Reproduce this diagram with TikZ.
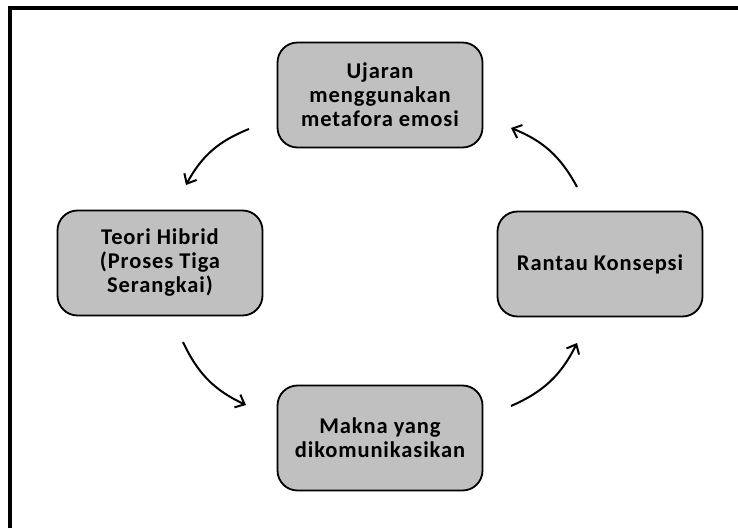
\documentclass[tikz,border=0pt]{standalone}
\usepackage{fontspec}
\setmainfont{Carlito}
\usetikzlibrary{arrows.meta}
\begin{document}
\begin{tikzpicture}[x=1pt,y=1pt,
  box/.style={draw=black, line width=1.8pt, fill=boxgray, rounded corners=20pt,
    minimum width=205pt, minimum height=105pt, align=center,
    font=\fontsize{22.5}{24}\selectfont\bfseries\addfontfeatures{LetterSpace=4}},
  cyc/.style={line width=2pt, -{Straight Barb[length=8pt,width=14pt,line width=2pt]}, bend right=20}]
\definecolor{boxgray}{HTML}{C0C0C0}
\useasboundingbox (0,0) rectangle (738,528);
\fill[white] (0,0) rectangle (738,528);
\draw[line width=4pt] (10,0) -- (10,520) -- (738,520);
\node[box] (top) at (380,433) {Ujaran\\menggunakan\\metafora emosi};
\node[box] (left) at (160,265) {Teori Hibrid\\(Proses Tiga\\Serangkai)};
\node[box] (bot) at (380,90) {Makna yang\\dikomunikasikan};
\node[box] (right) at (600,264) {Rantau Konsepsi};
\coordinate (a1s) at (249,399); \coordinate (a1e) at (186,343);
\coordinate (a2s) at (183,186); \coordinate (a2e) at (246,123);
\coordinate (a3s) at (511,122); \coordinate (a3e) at (577,185);
\coordinate (a4s) at (577,341); \coordinate (a4e) at (511,400);
\draw[cyc] (a1s) to (a1e);
\draw[cyc] (a2s) to (a2e);
\draw[cyc] (a3s) to (a3e);
\draw[cyc] (a4s) to (a4e);
\end{tikzpicture}
\end{document}
